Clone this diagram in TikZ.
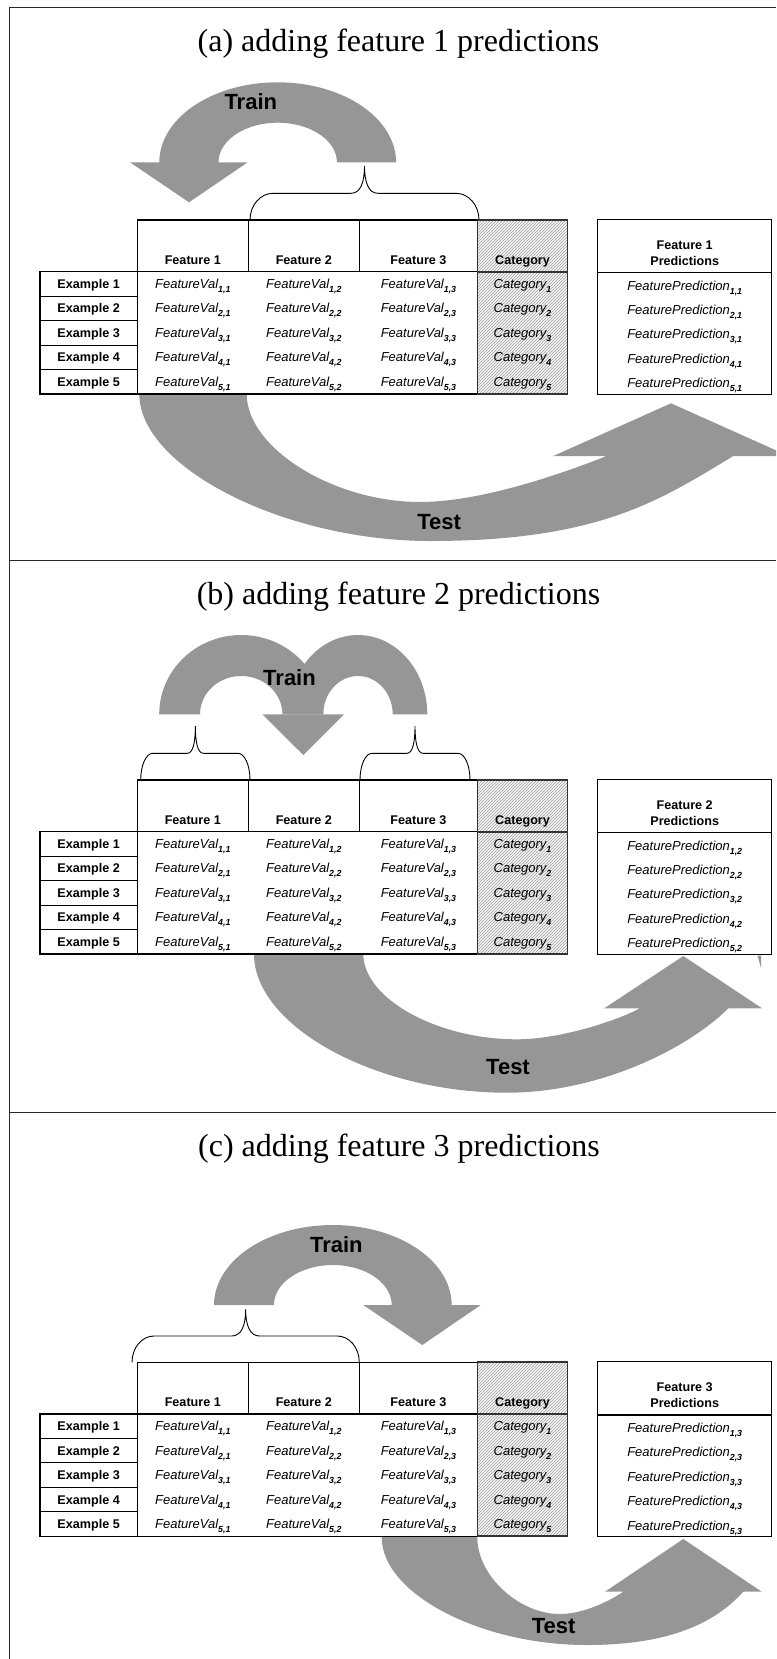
\documentclass[tikz,border=0pt]{standalone}
\usepackage{fontspec}
\setmainfont{Liberation Serif}
\newfontfamily\arialf{Liberation Sans}
\usetikzlibrary{patterns}
\definecolor{arrowgray}{RGB}{150,150,150}
\definecolor{catbg}{RGB}{246,246,246}
\definecolor{hatch}{RGB}{160,160,160}
\definecolor{framec}{RGB}{40,40,40}

% lowered bold index after an italic word
\newcommand\subidx[1]{\raisebox{-4pt}{\fontsize{8.8}{9}\selectfont\bfseries #1}}

% curly brace: xL, xR, y of feet, y of bar, y of tip, corner width, middle width
\newcommand\drawbrace[7]{%
  \pgfmathsetmacro\bxm{(#1+#2)/2}%
  \draw[braceline] (#1,#3) .. controls (#1,{#3-0.552*(#3-#4)}) and ({#1+0.448*#6},#4) .. ({#1+#6},#4)
    -- ({\bxm-#7},#4) .. controls ({\bxm-0.3*#7},#4) and (\bxm,{#4-0.4*(#4-#5)}) .. (\bxm,#5)
    .. controls (\bxm,{#4-0.4*(#4-#5)}) and ({\bxm+0.3*#7},#4) .. ({\bxm+#7},#4)
    -- ({#2-#6},#4) .. controls ({#2-0.448*#6},#4) and (#2,{#3-0.552*(#3-#4)}) .. (#2,#3);
}

% data table with category column and prediction column: id, vertical offset, feature index
\newcommand\tablepanel[3]{%
\begin{scope}[shift={(0,#2)}]
  \fill[white] (40,271.7) rectangle (477.6,394);
  \fill[white] (137.3,220) rectangle (477.6,271.7);
  \fill[catbg] (477.6,220) rectangle (567.5,394);
  \fill[pattern=north east lines, pattern color=hatch] (477.6,220) rectangle (567.5,394);
  \fill[white] (597.7,219.5) rectangle (771.7,394.3);
  \draw[tline] (137.3,220) rectangle (477.6,394);
  \draw[tline] (137.3,271.7) -- (477.6,271.7);
  \draw[tline] (248.3,220) -- (248.3,271.7);
  \draw[tline] (359.3,220) -- (359.3,271.7);
  \foreach \rw in {0,...,4} {
    \draw[tline] (40,{271.7+24.46*\rw}) rectangle (137.3,{271.7+24.46*(\rw+1)});
  }
  \draw[catline] (477.6,220) rectangle (567.5,394);
  \draw[catline] (477.6,271.7) -- (567.5,271.7);
  \draw[tline] (597.7,219.5) rectangle (771.7,394.3);
  \draw[tline] (597.7,272.7) -- (771.7,272.7);
  \node[hdr] (#1-h1) at (192.8,264) {Feature 1};
  \node[hdr] (#1-h2) at (303.8,264) {Feature 2};
  \node[hdr] (#1-h3) at (418.45,264) {Feature 3};
  \node[hdr] (#1-hc) at (522.55,264) {Category};
  \node[hdr] (#1-hp1) at (684.7,249.3) {Feature #3};
  \node[hdr] (#1-hp2) at (684.7,265) {Predictions};
  \foreach \rw in {1,...,5} {
    \pgfmathsetmacro\rowy{288.5+24.45*(\rw-1)}
    \node[hdr] (#1-ex\rw) at (88.65,\rowy) {Example \rw};
    \node[val] (#1-v\rw-1) at (192.8,\rowy) {FeatureVal\subidx{\rw,1}};
    \node[val] (#1-v\rw-2) at (303.8,\rowy) {FeatureVal\subidx{\rw,2}};
    \node[val] (#1-v\rw-3) at (418.45,\rowy) {FeatureVal\subidx{\rw,3}};
    \node[val] (#1-c\rw) at (522.55,\rowy) {Category\subidx{\rw}};
    \node[val] (#1-p\rw) at (684.7,{\rowy+1.5}) {FeaturePrediction\subidx{\rw,#3}};
  }
\end{scope}}

\begin{document}
\begin{tikzpicture}[x=1pt,y=-1pt,
  frame/.style={line width=1pt, draw=framec},
  tline/.style={line width=1.1pt, draw=black},
  catline/.style={line width=1.7pt, draw=black!80},
  braceline/.style={line width=0.9pt, draw=black},
  band/.style={fill=arrowgray},
  title/.style={font=\fontsize{32}{38}\selectfont, anchor=base, inner sep=0pt},
  hdr/.style={font=\arialf\bfseries\fontsize{12.6}{14}\selectfont, anchor=base, inner sep=0pt},
  val/.style={font=\arialf\itshape\fontsize{13}{15}\selectfont, anchor=base, inner sep=0pt},
  lbl/.style={font=\arialf\bfseries\fontsize{22}{26}\selectfont, anchor=base, inner sep=0pt}]
\useasboundingbox (0,0) rectangle (776,1659);
\clip (0,0) rectangle (776,1659);

% frame and panel separators
\draw[frame] (776,8) -- (9,8) -- (9,1659);
\draw[frame] (9,560.7) -- (776,560.7);
\draw[frame] (9,1112.5) -- (776,1112.5);

% panel titles
\node[title] (title-a) at (398.5,52) {(a) adding feature 1 predictions};
\node[title] (title-b) at (398.5,604.5) {(b) adding feature 2 predictions};
\node[title] (title-c) at (399,1156.5) {(c) adding feature 3 predictions};

% ---------- panel (a) ----------
\fill[band] plot[domain=0:180,samples=73] ({277.7+118.4*cos(\x)},{162.3-80*sin(\x)})
  -- (130,162.3) -- (189,202.3) -- (247.7,162.3)
  -- plot[domain=0:180,samples=73] ({277.7-59.2*cos(\x)},{162.3-39.6*sin(\x)}) -- cycle;
\drawbrace{250}{479}{220}{193.3}{166}{23}{13.5}
\fill[band] (139.3,390) -- (139.3,394) .. controls (139.3,467.5) and (284.6,541) .. (430,541)
  .. controls (600,541) and (660.3,500) .. (733.3,456)
  -- (788.7,456) -- (671,403.3) -- (553.3,456) -- (606.7,456)
  .. controls (560,474.5) and (480,502) .. (420,502)
  .. controls (333.4,502) and (246.7,448) .. (246.7,394) -- (246.7,390) -- cycle;
\tablepanel{a}{0}{1}
\node[lbl] (train-a) at (250.8,110) {Train};
\node[lbl] (test-a) at (439.2,529) {Test};

% ---------- panel (b) ----------
\fill[band] plot[domain=0:180,samples=61] ({241.2-82*cos(\x)},{714.3-79.3*sin(\x)})
  -- plot[domain=0:180,samples=61] ({241.2+41.2*cos(\x)},{714.3-38.3*sin(\x)}) -- cycle;
\fill[band] plot[domain=0:180,samples=61] ({358-69.3*cos(\x)},{714.3-79.3*sin(\x)})
  -- plot[domain=0:180,samples=61] ({358+34.7*cos(\x)},{714.3-38.3*sin(\x)}) -- cycle;
\fill[band] (262.3,714.3) -- (344,714.3) -- (303.3,755) -- cycle;
\drawbrace{140.7}{250}{780}{753.3}{726}{12}{8}
\drawbrace{360}{470}{780}{753.3}{726}{12}{8}
\fill[band] (254,950) -- (254,954) .. controls (254,1026.1) and (375.3,1092.7) .. (506.7,1092.7)
  .. controls (600,1092.7) and (688.3,1048.3) .. (728.3,1008.3)
  -- (762,1008.3) -- (683.3,956) -- (604.3,1008.3) -- (640,1008.3)
  .. controls (616,1021) and (560,1039.3) .. (516.7,1039.3)
  .. controls (436.9,1039.3) and (363.3,998.4) .. (363.3,954) -- (363.3,950) -- cycle;
\fill[band] (757.5,955.5) -- (761,955.5) -- (761,968) -- cycle;
\tablepanel{b}{560}{2}
\node[lbl] (train-b) at (289.5,685) {Train};
\node[lbl] (test-b) at (508,1074) {Test};

% ---------- panel (c) ----------
\fill[band] plot[domain=0:180,samples=73] ({332.85-118.85*cos(\x)},{1305-80*sin(\x)})
  -- (480.7,1305) -- (422.3,1345) -- (363.3,1305)
  -- plot[domain=0:180,samples=73] ({332.85+58.85*cos(\x)},{1305-40*sin(\x)}) -- cycle;
\drawbrace{132}{359.3}{1362.3}{1336}{1309.3}{22}{14}
\fill[band] (381.7,1533) -- (381.7,1537.3) .. controls (381.7,1593.3) and (480.1,1645) .. (586.7,1645)
  .. controls (670,1645) and (715.3,1622.7) .. (743.3,1591.7)
  -- (761.7,1591.7) -- (683.3,1539) -- (605,1591.7) -- (623.3,1591.7)
  .. controls (605,1604) and (580,1614) .. (560,1614)
  .. controls (518.65,1614) and (477.3,1575.65) .. (477.3,1537.3) -- (477.3,1533) -- cycle;
\tablepanel{c}{1142.3}{3}
\node[lbl] (train-c) at (336.3,1252.7) {Train};
\node[lbl] (test-c) at (553.7,1633.3) {Test};
\end{tikzpicture}
\end{document}
